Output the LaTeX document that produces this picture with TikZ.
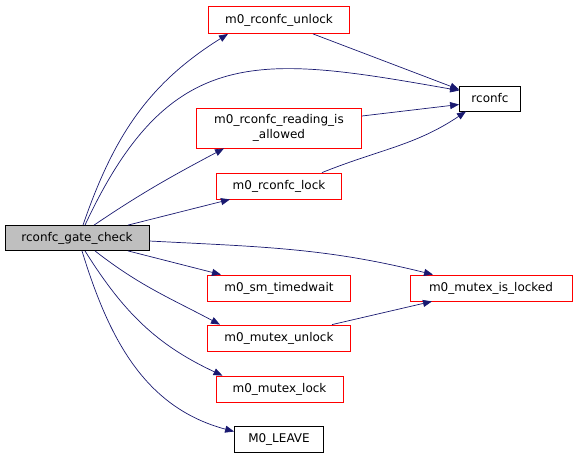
\documentclass[tikz,border=0pt]{standalone}
\usepackage{fontspec}
\setmainfont{DejaVu Sans}
\usetikzlibrary{arrows.meta}
\definecolor{aresta}{HTML}{191970}
\definecolor{cinza}{HTML}{BFBFBF}
\definecolor{borda}{HTML}{FF0000}

\begin{document}
\begin{tikzpicture}[x=1pt,y=1pt, font=\fontsize{12}{15}\selectfont,
    fn/.style={draw=borda, line width=0.8pt, fill=white, inner sep=0pt, align=center, minimum height=26pt},
    ext/.style={fn, draw=black},
    raiz/.style={fn, draw=black, fill=cinza},
    ar/.style={-{Triangle[length=9pt,width=7pt]}, line width=0.7pt, aresta}]
  \useasboundingbox (0,0) rectangle (573,-459);
  \node[raiz, minimum width=144pt, minimum height=25pt] (gate) at (77,-238) {rconfc\_gate\_check};
  \node[fn, minimum width=141pt, minimum height=27pt] (unlock) at (279,-20) {m0\_rconfc\_unlock};
  \node[ext, minimum width=61pt, minimum height=25pt] (rconfc) at (490,-98.5) {rconfc};
  \node[fn, minimum width=165pt, minimum height=40pt] (reading) at (279,-128) {m0\_rconfc\_reading\_is\\\_allowed};
  \node[fn, minimum width=125pt] (lock) at (279,-186) {m0\_rconfc\_lock};
  \node[fn, minimum width=143pt] (timedwait) at (279,-288) {m0\_sm\_timedwait};
  \node[fn, minimum width=162pt] (islocked) at (491,-288) {m0\_mutex\_is\_locked};
  \node[fn, minimum width=143pt] (munlock) at (279,-338) {m0\_mutex\_unlock};
  \node[fn, minimum width=127pt] (mlock) at (279.5,-389) {m0\_mutex\_lock};
  \node[ext, minimum width=89pt] (leave) at (279,-439.5) {M0\_LEAVE};
  % chamadas de rconfc_gate_check
  \draw[ar] ([xshift=6pt]gate.north) to[out=71,in=212] ([xshift=-51pt]unlock.south);
  \draw[ar] ([xshift=8pt]gate.north) to[out=65,in=170,looseness=1.3] ([yshift=8pt]rconfc.west);
  \draw[ar] ([xshift=17pt]gate.north) to[out=34,in=208] ([xshift=-55pt]reading.south);
  \draw[ar] ([xshift=51pt]gate.north) -- ([xshift=-49pt]lock.south);
  \draw[ar] ([yshift=-3pt]gate.east) to[out=-3,in=166] ([xshift=-58pt]islocked.north);
  \draw[ar] ([xshift=51pt]gate.south) -- ([xshift=-58pt]timedwait.north);
  \draw[ar] ([xshift=18pt]gate.south) to[out=-38,in=152] ([xshift=-59pt]munlock.north);
  \draw[ar] ([xshift=8pt]gate.south) to[out=-58,in=155] ([xshift=-57pt]mlock.north);
  \draw[ar] ([xshift=5pt]gate.south) to[out=-73,in=165] ([yshift=8pt]leave.west);
  % chamadas internas
  \draw[ar] ([xshift=34pt]unlock.south) -- ([yshift=9pt]rconfc.west);
  \draw[ar] ([yshift=12pt]reading.east) -- ([yshift=-6pt]rconfc.west);
  \draw[ar] ([xshift=43pt]lock.north) to[out=22,in=214] ([xshift=-24pt]rconfc.south);
  \draw[ar] ([xshift=53pt]munlock.north) -- ([xshift=-59pt]islocked.south);
\end{tikzpicture}
\end{document}
